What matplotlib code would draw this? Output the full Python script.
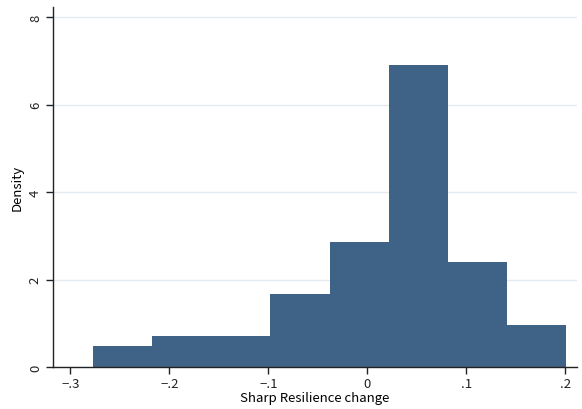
import numpy as np
import matplotlib.pyplot as plt
from matplotlib.ticker import FuncFormatter

# histogram
bin_edges = [-0.2774, -0.2176, -0.1578, -0.0980, -0.0382, 0.0216, 0.0814, 0.1412, 0.2010]
density = [0.48, 0.72, 0.72, 1.68, 2.86, 6.91, 2.40, 0.95]
x_ticks = [-0.3, -0.2, -0.1, 0.0, 0.1, 0.2]
y_ticks = [0, 2, 4, 6, 8]

plt.rcParams['font.family'] = ['Noto Sans CJK JP', 'DejaVu Sans']

fig = plt.figure(figsize=(5.82, 4.10), dpi=100)
ax = fig.add_axes([0.0911, 0.1024, 0.9003, 0.8781])

# one filled step polygon so neighbouring bins merge without seams
ax.stairs(density, bin_edges, fill=True, color='#3e6387', zorder=2)

def fmt(v, pos):
    if abs(v) < 1e-9:
        return '0'
    s = ('%.1f' % abs(v)).lstrip('0')
    return ('\u2212' if v < 0 else '') + s

ax.set_xticks(x_ticks)
ax.xaxis.set_major_formatter(FuncFormatter(fmt))
ax.set_yticks(y_ticks)
ax.set_xlim(-0.3175, 0.2118)
ax.set_ylim(0, 8.23)

ax.grid(axis='y', color='#e3eaf0', linewidth=1.0, zorder=0)
ax.set_axisbelow(True)
for s in ['top', 'right']:
    ax.spines[s].set_visible(False)
for s in ['left', 'bottom']:
    ax.spines[s].set_linewidth(1.0)
    ax.spines[s].set_color('#222222')

ax.tick_params(axis='both', direction='out', length=5, width=1.0, labelsize=9.5, colors='#222222')
plt.setp(ax.get_yticklabels(), rotation=90, va='center')
ax.tick_params(axis='x', pad=2)
ax.tick_params(axis='y', pad=3)

ax.set_xlabel('Sharp Resilience change', fontsize=9.5, labelpad=1)
ax.set_ylabel('Density', fontsize=9.5, labelpad=4)

fig.savefig('out.png', dpi=100, facecolor='white')
